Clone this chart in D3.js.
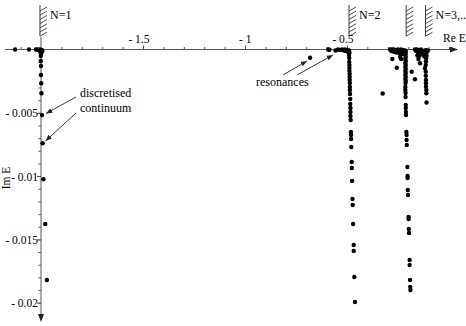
<!DOCTYPE html>
<html>
<head>
<meta charset="utf-8">
<script src="https://cdn.jsdelivr.net/npm/d3@7"></script>
<style>
  html, body { margin: 0; padding: 0; background: #fff; }
  svg { display: block; }
</style>
</head>
<body>
<div id="chart"></div>
<script>
// tick labels
var xTickValues = [-1.5, -1, -0.5];
var yTickValues = [-0.005, -0.01, -0.015, -0.02];

// thresholds (Re E) and their labels
var thresholds = [-2.005, -0.49, -0.21, -0.115];
var thresholdLabels = ["N=1", "N=2", "", "N=3,..."];

// [Re E, Im E]
var n1Points = [
    [-2.127, 0], [-2.059, 0], [-2.025, 0], [-2.017, 0], [-2.010, -0.00004], [-2.005, 0],
    [-2.000, -0.0001], [-1.996, -0.00003], [-1.993, -0.00012], [-2.003, -0.00022], [-1.999, -0.0003],
    [-2.001, -0.00051], [-2.001, -0.00091], [-2.000, -0.0013], [-2.000, -0.00201], [-1.999, -0.00267],
    [-1.998, -0.00346], [-1.995, -0.00518], [-1.992, -0.00741], [-1.988, -0.01025], [-1.979, -0.01378],
    [-1.971, -0.01821]
];

var resonancePoints = [[-0.681, -0.00065], [-0.592, 0], [-0.586, -0.00002], [-0.556, -0.00008]];

var n2Points = [
    [-0.544, 0], [-0.534, -0.00005], [-0.525, 0], [-0.515, -0.00008], [-0.510, 0], [-0.505, -0.00012],
    [-0.500, -0.00005], [-0.495, -0.0002], [-0.492, -0.00008], [-0.488, -0.00025], [-0.490, -0.0001],
    [-0.490, -0.00043], [-0.489, -0.00067], [-0.489, -0.00099], [-0.488, -0.00122], [-0.488, -0.00146],
    [-0.488, -0.0017], [-0.487, -0.00194], [-0.487, -0.00217], [-0.487, -0.00241], [-0.486, -0.00265],
    [-0.486, -0.00296], [-0.486, -0.0032], [-0.485, -0.00352], [-0.484, -0.00391], [-0.484, -0.0043],
    [-0.483, -0.00462], [-0.483, -0.00494], [-0.483, -0.00525], [-0.482, -0.00557], [-0.481, -0.00652],
    [-0.480, -0.00675], [-0.480, -0.00707], [-0.479, -0.0077], [-0.477, -0.00889], [-0.476, -0.00936],
    [-0.475, -0.01038], [-0.473, -0.01181], [-0.472, -0.01228], [-0.470, -0.01378], [-0.467, -0.01544],
    [-0.467, -0.01591], [-0.464, -0.01797], [-0.461, -0.01995]
];

var n3Points = [
    [-0.289, 0], [-0.284, -0.0001], [-0.279, 0], [-0.274, -0.00015], [-0.270, 0], [-0.265, -0.0002],
    [-0.260, -0.00005], [-0.255, -0.00025], [-0.250, 0], [-0.245, -0.0001], [-0.240, -0.0003], [-0.235, 0],
    [-0.230, -0.00015], [-0.226, -0.00035], [-0.221, -0.00005], [-0.218, -0.0002], [-0.213, -0.0001],
    [-0.278, -0.00075], [-0.240, -0.00057], [-0.235, -0.00075], [-0.256, -0.00144], [-0.183, -0.00175],
    [-0.167, -0.00235], [-0.325, -0.00348],
    [-0.214, -0.00012], [-0.212, -0.00028], [-0.214, -0.00043], [-0.212, -0.00059], [-0.214, -0.00075],
    [-0.212, -0.00091], [-0.214, -0.00107], [-0.212, -0.00122], [-0.214, -0.00138], [-0.212, -0.00154],
    [-0.214, -0.0017], [-0.212, -0.00186], [-0.214, -0.00201], [-0.212, -0.00217], [-0.214, -0.00233],
    [-0.212, -0.00249], [-0.213, -0.00265],
    [-0.214, -0.00296], [-0.214, -0.0032], [-0.213, -0.00344], [-0.213, -0.00375], [-0.212, -0.00438],
    [-0.212, -0.00462], [-0.211, -0.00494], [-0.211, -0.00517], [-0.209, -0.00652], [-0.208, -0.00675],
    [-0.208, -0.00715], [-0.207, -0.00754], [-0.204, -0.00928], [-0.203, -0.00999], [-0.203, -0.01015],
    [-0.202, -0.0111], [-0.201, -0.01149], [-0.198, -0.01323], [-0.198, -0.01339], [-0.197, -0.01418],
    [-0.196, -0.0145], [-0.193, -0.01663], [-0.193, -0.01702], [-0.191, -0.01821], [-0.190, -0.01876],
    [-0.189, -0.019]
];

var n4Points = [
    [-0.167, 0], [-0.162, -0.0001], [-0.157, 0], [-0.152, -0.0002], [-0.147, -0.00005], [-0.142, -0.0003],
    [-0.137, 0], [-0.132, -0.00015], [-0.127, -0.0004], [-0.122, -0.0001], [-0.118, -0.0003], [-0.113, -0.00005],
    [-0.108, -0.00018], [-0.103, -0.00008], [-0.155, -0.00045], [-0.145, -0.0005], [-0.120, -0.00055],
    [-0.110, -0.0005],
    [-0.150, -0.00075], [-0.142, -0.00109], [-0.112, -0.0007], [-0.113, -0.00095], [-0.114, -0.00122],
    [-0.118, -0.00148], [-0.114, -0.00175], [-0.114, -0.00207], [-0.113, -0.00241], [-0.113, -0.00267],
    [-0.113, -0.00294], [-0.111, -0.0032], [-0.111, -0.00346], [-0.110, -0.00419]
];

var width = 466, height = 326;
var serif = "Liberation Serif";

var svg = d3.select("#chart").append("svg")
    .attr("width", width)
    .attr("height", height)
    .attr("font-family", serif);

var x = d3.scaleLinear().domain([-2, -0.5]).range([41, 347]);
var y = d3.scaleLinear().domain([0, -0.02]).range([49.5, 302.7]);

var axisColor = "#555";

// x axis: minor ticks every 0.1, labels every 0.5
var xMinor = d3.range(-21, 1).map(function(d) { return d / 10; }).filter(function(d) { return d !== -2; });
svg.append("g")
    .attr("transform", "translate(0," + y(0) + ")")
    .call(d3.axisTop(x).tickValues(xMinor).tickSize(2.5).tickFormat(""))
    .call(function(g) { g.select(".domain").remove(); })
    .selectAll("line").attr("stroke", axisColor);

var xLab = svg.append("g")
    .attr("transform", "translate(0," + y(0) + ")")
    .call(d3.axisTop(x).tickValues(xTickValues).tickSize(4)
        .tickFormat(function(d) { return "- " + Math.abs(d); }));
xLab.attr("font-family", serif).attr("font-size", 11.5);
xLab.select(".domain").remove();
xLab.selectAll("line").attr("stroke", axisColor);
xLab.selectAll("text")
    .attr("fill", "#000")
    .attr("text-anchor", "end")
    .attr("dx", 6)
    .attr("y", -6.5);

// y axis: minor every 0.001, labels every 0.005
var yMinor = d3.range(1, 21).map(function(d) { return -d / 1000; });
svg.append("g")
    .attr("transform", "translate(" + x(-2) + ",0)")
    .call(d3.axisLeft(y).tickValues(yMinor).tickSize(2.5).tickFormat(""))
    .call(function(g) { g.select(".domain").remove(); })
    .selectAll("line").attr("stroke", axisColor);

var yLab = svg.append("g")
    .attr("transform", "translate(" + x(-2) + ",0)")
    .call(d3.axisLeft(y).tickValues(yTickValues).tickSize(4)
        .tickFormat(function(d) { return "- " + Math.abs(d); }));
yLab.attr("font-family", serif).attr("font-size", 11.5);
yLab.select(".domain").remove();
yLab.selectAll("line").attr("stroke", axisColor);
yLab.selectAll("text")
    .attr("fill", "#000")
    .attr("x", -3)
    .attr("dy", "0.35em");

// axis lines with arrow heads
svg.append("line")
    .attr("x1", 5).attr("x2", 452)
    .attr("y1", y(0)).attr("y2", y(0))
    .attr("stroke", axisColor).attr("stroke-width", 1);
svg.append("path")
    .attr("d", "M458," + y(0) + "L450," + (y(0) - 3) + "L450," + (y(0) + 3) + "Z")
    .attr("fill", "#222");

svg.append("line")
    .attr("x1", x(-2)).attr("x2", x(-2))
    .attr("y1", 37).attr("y2", 316)
    .attr("stroke", axisColor).attr("stroke-width", 1);
svg.append("path")
    .attr("d", "M" + x(-2) + ",322L" + (x(-2) - 3) + ",314L" + (x(-2) + 3) + ",314Z")
    .attr("fill", "#222");

svg.append("text")
    .attr("x", 443).attr("y", 41.5)
    .attr("font-size", 11.5)
    .text("Re E");

svg.append("text")
    .attr("transform", "translate(10,178) rotate(-90)")
    .attr("text-anchor", "middle")
    .attr("font-size", 11.5)
    .text("Im E");

// threshold marks
var hatch = svg.selectAll(".hatch")
    .data(thresholds)
    .enter().append("g")
    .attr("class", "hatch")
    .attr("transform", function(d) { return "translate(" + x(d) + ",0)"; });

hatch.append("line")
    .attr("x1", 0).attr("x2", 0).attr("y1", 5).attr("y2", 36)
    .attr("stroke", "#222").attr("stroke-width", 0.9);

hatch.selectAll(".stroke")
    .data(d3.range(7))
    .enter().append("line")
    .attr("class", "stroke")
    .attr("x1", 0).attr("x2", 7)
    .attr("y1", function(k) { return 11 + k * 4.2; })
    .attr("y2", function(k) { return 7 + k * 4.2; })
    .attr("stroke", "#222").attr("stroke-width", 0.8);

hatch.append("text")
    .attr("x", 10).attr("y", 19)
    .attr("font-size", 12)
    .text(function(d, i) { return thresholdLabels[i]; });

// points
var allPoints = [].concat(n1Points, resonancePoints, n2Points, n3Points, n4Points);
svg.append("g").selectAll("circle")
    .data(allPoints)
    .enter().append("circle")
    .attr("cx", function(d) { return x(d[0]); })
    .attr("cy", function(d) { return y(d[1]); })
    .attr("r", 2.2)
    .attr("fill", "#000");

// annotations
svg.append("defs").append("marker")
    .attr("id", "head")
    .attr("viewBox", "0 0 10 10")
    .attr("refX", 10).attr("refY", 5)
    .attr("markerWidth", 7).attr("markerHeight", 7)
    .attr("orient", "auto")
    .append("path")
    .attr("d", "M0,1L10,5L0,9Z")
    .attr("fill", "#222");

function arrow(x1, y1, x2, y2) {
    svg.append("line")
        .attr("x1", x1).attr("y1", y1).attr("x2", x2).attr("y2", y2)
        .attr("stroke", "#222").attr("stroke-width", 0.9)
        .attr("marker-end", "url(#head)");
}

svg.append("text").attr("x", 80).attr("y", 97).attr("font-size", 12).text("discretised");
svg.append("text").attr("x", 80).attr("y", 112).attr("font-size", 12).text("continuum");
arrow(76, 97, 46, 113.5);
arrow(76, 113, 45.5, 141);

svg.append("text").attr("x", 256).attr("y", 86).attr("font-size", 12).text("resonances");
arrow(283, 75, 307, 61);
arrow(297, 75, 333, 55);
</script>
</body>
</html>
